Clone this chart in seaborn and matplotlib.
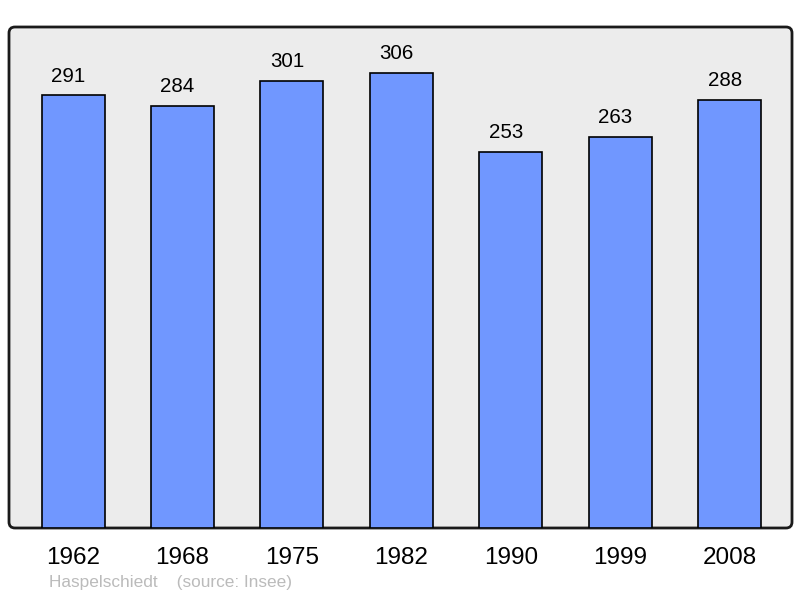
import numpy as np
import pandas as pd
import matplotlib
matplotlib.use("Agg")
import matplotlib.pyplot as plt
import seaborn as sns
from matplotlib.patches import FancyBboxPatch

years = ["1962", "1968", "1975", "1982", "1990", "1999", "2008"]
population = [291, 284, 301, 306, 253, 263, 288]
commune = "Haspelschiedt"
source = "(source: Insee)"

df = pd.DataFrame({"year": years, "pop": population})

sns.set_theme(style="white")
plt.rcParams["font.family"] = ["Liberation Sans", "DejaVu Sans"]

fig = plt.figure(figsize=(8, 5.98), dpi=100)
ax = fig.add_axes([9 / 800, 70 / 598, 783 / 800, 501 / 598])
ax.patch.set_alpha(0)

# rounded frame behind the axes, in pixel coordinates
frame = FancyBboxPatch((9, 70), 783, 501, boxstyle="round,pad=0,rounding_size=6",
                       transform=None, facecolor="#ececec", edgecolor="#1a1a1a",
                       linewidth=2, zorder=-1)
fig.patches.append(frame)

sns.barplot(data=df, x="year", y="pop", color="#7097ff", width=0.576,
            edgecolor="black", linewidth=1.2, saturation=1, ax=ax)

for i, v in enumerate(population):
    ax.annotate(str(v), (i, v), xytext=(-3.5, 7), textcoords="offset points",
                ha="center", va="bottom", fontsize=14.8, color="black")

ax.set_xlim(-0.585, 6.57)
ax.set_ylim(0, 337)
ax.set_xlabel("")
ax.set_ylabel("")
ax.set_yticks([])
ax.tick_params(axis="x", length=0, pad=14, labelsize=17.5, colors="black")
for s in ax.spines.values():
    s.set_visible(False)

fig.text(49 / 800, 15 / 598, commune + "    " + source, color="#bbbbbb",
         fontsize=12.4, va="center", ha="left")

fig.savefig("out.png", dpi=100)
